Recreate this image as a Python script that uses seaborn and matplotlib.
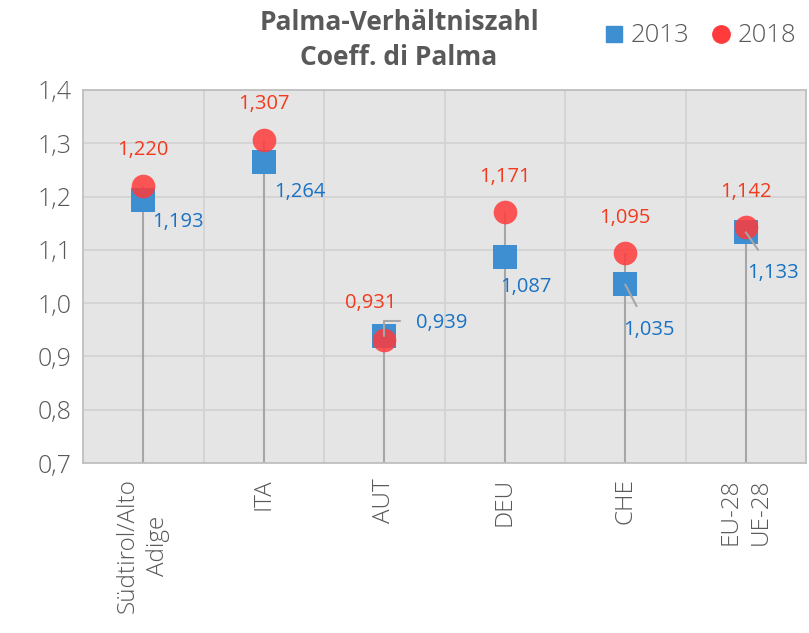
import matplotlib
matplotlib.use('Agg')
import matplotlib.pyplot as plt
from matplotlib.lines import Line2D
import seaborn as sns
import pandas as pd
import numpy as np

# data
categories = ['Südtirol/Alto\nAdige', 'ITA', 'AUT', 'DEU', 'CHE', 'EU-28\nUE-28']
values_2013 = [1.193, 1.264, 0.939, 1.087, 1.035, 1.133]
values_2018 = [1.220, 1.307, 0.931, 1.171, 1.095, 1.142]
y_ticks = [0.7, 0.8, 0.9, 1.0, 1.1, 1.2, 1.3, 1.4]
title = 'Palma-Verhältniszahl\nCoeff. di Palma'

COLOR_2013, COLOR_2018 = '#3d8fd1', '#ff3b3b'
TXT_2013, TXT_2018 = '#1a72c4', '#f23a1e'
GRAY_TXT = '#595959'
FONT = ['Open Sans', 'DejaVu Sans']

# label offsets in pixels (dx, dy), dy positive = up
off_2018 = [(0, 36), (0, 36), (-13, 37), (0, 35), (0, 35), (0, 35)]
off_2013 = [(35, -22), (36, -30), (57, 13), (21, -30), (24, -46), (27, -41)]
leader_2013 = [None, None, 'elbow', None, 'line', 'line']

sns.set_theme(style='white')
plt.rcParams['font.family'] = FONT

df = pd.DataFrame({
    'x': list(range(len(categories))) * 2,
    'value': values_2013 + values_2018,
    'year': ['2013'] * len(categories) + ['2018'] * len(categories),
})

fig = plt.figure(figsize=(8.09, 6.33), dpi=100)
ax = fig.add_axes([83 / 809, 1 - 463 / 633, 723 / 809, 373 / 633])
ax.set_facecolor('#e5e5e5')

xs = np.arange(len(categories))
tops = np.maximum(values_2013, values_2018)
ax.vlines(xs, y_ticks[0], tops, color='#a6a6a6', lw=1.5, zorder=2)

sns.scatterplot(data=df[df.year == '2013'], x='x', y='value', marker='s',
                color=COLOR_2013, s=290, linewidth=0, ax=ax, zorder=3, legend=False)
sns.scatterplot(data=df[df.year == '2018'], x='x', y='value', marker='o',
                color=COLOR_2018, s=290, linewidth=0, alpha=0.85, ax=ax, zorder=4,
                legend=False)

fmt = lambda v: f'{v:.3f}'.replace('.', ',')
for i in range(len(categories)):
    ax.annotate(fmt(values_2018[i]), (xs[i], values_2018[i]),
                xytext=off_2018[i], textcoords='offset pixels',
                ha='center', va='center', color=TXT_2018, fontsize=14.5, zorder=6)
    lead = leader_2013[i]
    arrow = None
    if lead == 'line':
        arrow = dict(arrowstyle='-', color='#a6a6a6', lw=1.5, relpos=(0.4, 1.0),
                     shrinkA=9, shrinkB=0)
    elif lead == 'elbow':
        arrow = dict(arrowstyle='-', color='#a6a6a6', lw=1.5, relpos=(0.0, 0.6),
                     shrinkA=9, shrinkB=0,
                     connectionstyle='angle,angleA=0,angleB=90,rad=0')
    ax.annotate(fmt(values_2013[i]), (xs[i], values_2013[i]),
                xytext=off_2013[i], textcoords='offset pixels',
                ha='center', va='center', color=TXT_2013, fontsize=14.5, zorder=6,
                arrowprops=arrow)

ax.set_xlim(-0.5, len(categories) - 0.5)
ax.set_ylim(y_ticks[0], y_ticks[-1])
ax.set_yticks(y_ticks)
ax.set_yticklabels([f'{t:.1f}'.replace('.', ',') for t in y_ticks],
                   fontsize=18, color=GRAY_TXT, fontweight='light')
ax.set_xticks(xs)
ax.set_xticklabels(categories, rotation=90, fontsize=17.5, color=GRAY_TXT,
                   va='top', ha='center', multialignment='center',
                   fontweight='light', linespacing=1.35)
ax.set_xticks(xs[:-1] + 0.5, minor=True)
ax.tick_params(axis='y', length=0, pad=8)
ax.tick_params(axis='x', length=0, pad=11)
ax.grid(axis='y', color='#d3d3d3', lw=1.3)
ax.grid(axis='x', which='minor', color='#d3d3d3', lw=1.3)
ax.grid(axis='x', which='major', visible=False)
ax.set_axisbelow(True)
ax.set_xlabel('')
ax.set_ylabel('')
for sp in ax.spines.values():
    sp.set_color('#bfbfbf')
    sp.set_linewidth(1.3)

fig.text(399 / 809, 1 - 40 / 633, title, ha='center', va='center',
         fontsize=19, fontweight='bold', color=GRAY_TXT, linespacing=1.4)

handles = [Line2D([], [], marker='s', ls='', color=COLOR_2013, markersize=12),
           Line2D([], [], marker='o', ls='', color=COLOR_2018, markersize=12.5)]
fig.legend(handles, ['2013', '2018'], loc='center right', ncol=2, frameon=False,
           bbox_to_anchor=(796 / 809, 1 - 36 / 633), borderpad=0, borderaxespad=0,
           handletextpad=0.15, columnspacing=0.7, handlelength=1.0,
           labelcolor=GRAY_TXT, prop={'family': FONT, 'size': 18.5, 'weight': 'light'})

fig.savefig('out.png', dpi=100)
